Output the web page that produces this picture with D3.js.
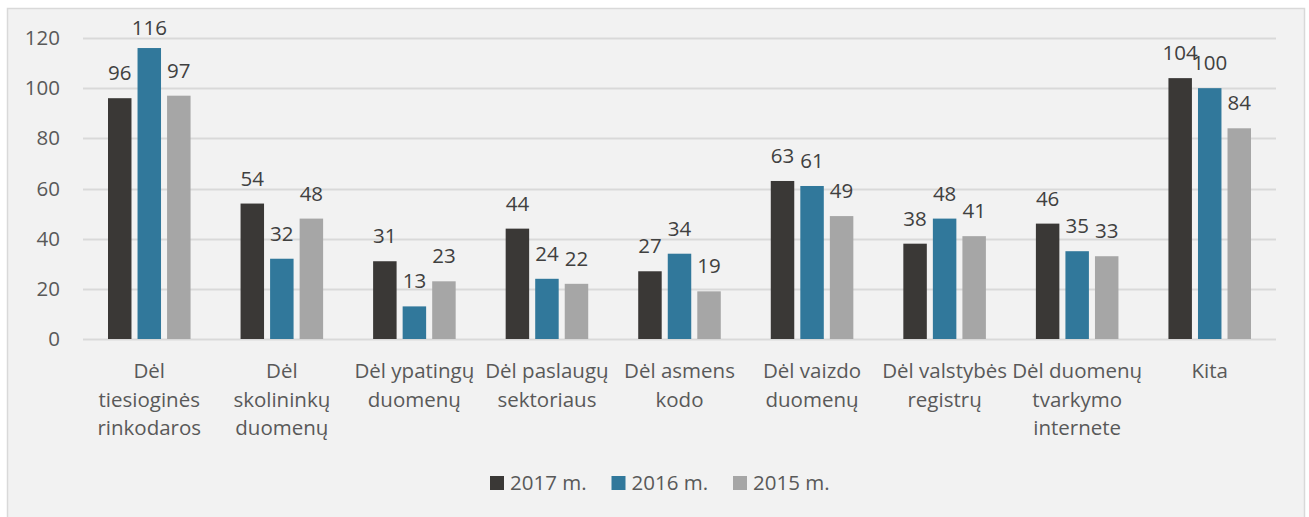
<!DOCTYPE html>
<html>
<head>
<meta charset="utf-8">
<script src="https://cdn.jsdelivr.net/npm/d3@7"></script>
<style>
  body { margin: 0; background: #fff; }
  svg text { font-family: "Open Sans", sans-serif; }
</style>
</head>
<body>
<svg id="chart" width="1309" height="517"></svg>
<script>
// categories (line breaks as in the original)
var categories = [
  "Dėl\ntiesioginės\nrinkodaros",
  "Dėl\nskolininkų\nduomenų",
  "Dėl ypatingų\nduomenų",
  "Dėl paslaugų\nsektoriaus",
  "Dėl asmens\nkodo",
  "Dėl vaizdo\nduomenų",
  "Dėl valstybės\nregistrų",
  "Dėl duomenų\ntvarkymo\ninternete",
  "Kita"
];
var seriesNames = ["2017 m.", "2016 m.", "2015 m."];
var values2017 = [96, 54, 31, 44, 27, 63, 38, 46, 104];
var values2016 = [116, 32, 13, 24, 34, 61, 48, 35, 100];
var values2015 = [97, 48, 23, 22, 19, 49, 41, 33, 84];
var yTicks = [0, 20, 40, 60, 80, 100, 120];
var colors = ["#3a3836", "#31789b", "#a6a6a6"];

var allValues = [values2017, values2016, values2015];

var svg = d3.select("#chart");
var fontSize = "20.5px";

// outer frame
svg.append("rect")
  .attr("x", 7.5).attr("y", 8.5)
  .attr("width", 1297).attr("height", 520)
  .attr("fill", "#f2f2f2")
  .attr("stroke", "#d9d9d9")
  .attr("stroke-width", 1.5);

var plotLeft = 83, plotRight = 1276, plotTop = 38, plotBottom = 339;

var y = d3.scaleLinear().domain([0, 120]).range([plotBottom, plotTop]);
var x0 = d3.scaleBand().domain(d3.range(categories.length)).range([plotLeft, plotRight]);
var x1 = d3.scaleBand().domain(d3.range(seriesNames.length))
  .range([25, x0.bandwidth() - 25]).paddingInner(0.205);

// gridlines
svg.append("g").selectAll("line")
  .data(yTicks)
  .join("line")
  .attr("x1", plotLeft).attr("x2", plotRight)
  .attr("y1", function(d){ return Math.round(y(d)) + 0.5; })
  .attr("y2", function(d){ return Math.round(y(d)) + 0.5; })
  .attr("stroke", "#d9d9d9")
  .attr("stroke-width", 1.8);

// y axis labels
var yAxis = d3.axisLeft(y).tickValues(yTicks).tickSize(0).tickPadding(0);
var yg = svg.append("g").attr("transform", "translate(60,0)").call(yAxis);
yg.select(".domain").remove();
yg.selectAll("text")
  .attr("fill", "#595959")
  .style("font-size", fontSize)
  .style("font-family", "'Open Sans', sans-serif");

// bars
var groups = svg.append("g").selectAll("g")
  .data(categories.map(function(c, i){ return i; }))
  .join("g")
  .attr("transform", function(i){ return "translate(" + x0(i) + ",0)"; });

groups.selectAll("rect")
  .data(function(i){ return allValues.map(function(v, s){ return {s: s, v: v[i]}; }); })
  .join("rect")
  .attr("x", function(d){ return x1(d.s); })
  .attr("width", x1.bandwidth())
  .attr("y", function(d){ return y(d.v); })
  .attr("height", function(d){ return y(0) - y(d.v); })
  .attr("fill", function(d){ return colors[d.s]; });

groups.selectAll("text")
  .data(function(i){ return allValues.map(function(v, s){ return {s: s, v: v[i]}; }); })
  .join("text")
  .attr("x", function(d){ return x1(d.s) + x1.bandwidth() / 2; })
  .attr("y", function(d){ return Math.max(y(d.v) - 18, 35); })
  .attr("text-anchor", "middle")
  .attr("fill", "#404040")
  .style("font-size", fontSize)
  .text(function(d){ return d.v; });

// category labels
var cat = svg.append("g").selectAll("text")
  .data(categories)
  .join("text")
  .attr("x", function(d, i){ return x0(i) + x0.bandwidth() / 2; })
  .attr("y", plotBottom + 39)
  .attr("text-anchor", "middle")
  .attr("fill", "#595959")
  .style("font-size", fontSize);

cat.each(function(d){
  var t = d3.select(this);
  d.split("\n").forEach(function(line, k){
    t.append("tspan")
      .attr("x", t.attr("x"))
      .attr("dy", k === 0 ? 0 : 28.5)
      .text(line);
  });
});

// legend
var legend = svg.append("g").attr("transform", "translate(490,476)");
var item = legend.selectAll("g")
  .data(seriesNames)
  .join("g")
  .attr("transform", function(d, i){ return "translate(" + (i * 121.5) + ",0)"; });
item.append("rect")
  .attr("width", 14).attr("height", 14)
  .attr("fill", function(d, i){ return colors[i]; });
item.append("text")
  .attr("x", 20).attr("y", 14)
  .attr("fill", "#595959")
  .style("font-size", fontSize)
  .text(function(d){ return d; });
</script>
</body>
</html>
